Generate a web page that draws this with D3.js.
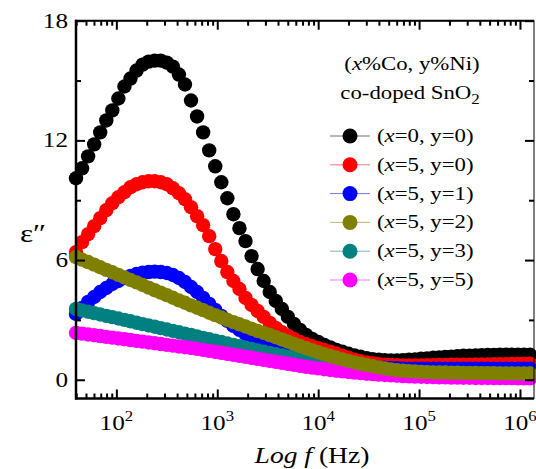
<!DOCTYPE html>
<html><head><meta charset="utf-8">
<script src="https://cdn.jsdelivr.net/npm/d3@7"></script>
<style>
body{margin:0;background:#fff}
svg{display:block}
text{font-family:"Liberation Serif","Times New Roman",serif;fill:#000}
</style>
</head><body>
<svg id="chart" width="536" height="469"></svg>
<script>
// log10 of frequency (Hz)
const logFreq = [1.60,1.66,1.72,1.78,1.84,1.90,1.96,2.02,2.08,2.14,2.20,2.26,2.32,2.38,2.44,2.50,2.56,2.62,2.68,2.74,2.80,2.86,2.92,2.98,3.04,3.10,3.16,3.22,3.28,3.34,3.40,3.46,3.52,3.58,3.64,3.70,3.76,3.82,3.88,3.94,4.00,4.06,4.12,4.18,4.24,4.30,4.36,4.42,4.48,4.54,4.60,4.66,4.72,4.78,4.84,4.90,4.96,5.02,5.08,5.14,5.20,5.26,5.32,5.38,5.44,5.50,5.56,5.62,5.68,5.74,5.80,5.86,5.92,5.98,6.04,6.10];

const eps_x0_y0 = [10.1,10.6,11.2,11.8,12.4,13.0,13.5,14.1,14.7,15.1,15.5,15.8,15.95,16.0,16.0,15.9,15.7,15.3,14.8,14.0,13.2,12.4,11.5,10.7,9.9,9.1,8.3,7.6,6.95,6.2,5.55,4.95,4.4,3.95,3.55,3.15,2.8,2.5,2.25,2.05,1.9,1.75,1.62,1.5,1.4,1.3,1.22,1.15,1.08,1.03,1.0,0.98,0.97,0.97,0.98,1.0,1.02,1.05,1.07,1.1,1.12,1.14,1.16,1.18,1.2,1.21,1.22,1.23,1.24,1.24,1.25,1.25,1.25,1.25,1.25,1.25];
const eps_x5_y0 = [6.4,6.9,7.3,7.7,8.1,8.5,8.85,9.15,9.4,9.65,9.8,9.9,9.95,9.95,9.9,9.8,9.6,9.35,9.05,8.65,8.2,7.75,7.2,6.55,5.95,5.4,4.95,4.55,4.1,3.75,3.45,3.15,2.85,2.6,2.38,2.2,2.05,1.9,1.78,1.68,1.58,1.5,1.4,1.3,1.2,1.1,1.0,0.93,0.87,0.82,0.78,0.76,0.74,0.73,0.72,0.72,0.72,0.72,0.73,0.73,0.74,0.74,0.75,0.75,0.76,0.76,0.77,0.77,0.77,0.78,0.78,0.78,0.79,0.79,0.8,0.8];
const eps_x5_y1 = [3.3,3.6,3.9,4.15,4.4,4.6,4.8,4.95,5.1,5.2,5.3,5.37,5.4,5.42,5.4,5.35,5.25,5.1,4.9,4.65,4.4,4.1,3.8,3.5,3.2,2.95,2.7,2.5,2.3,2.12,1.95,1.8,1.66,1.54,1.43,1.33,1.24,1.16,1.09,1.02,0.96,0.91,0.86,0.82,0.78,0.74,0.71,0.68,0.66,0.64,0.62,0.6,0.59,0.58,0.57,0.56,0.56,0.55,0.55,0.55,0.55,0.55,0.55,0.55,0.55,0.55,0.55,0.55,0.55,0.55,0.55,0.55,0.55,0.55,0.55,0.55];
const eps_x5_y2 = [6.15,6.02,5.9,5.77,5.64,5.51,5.39,5.26,5.13,5.0,4.88,4.75,4.62,4.49,4.37,4.24,4.11,3.98,3.86,3.73,3.61,3.49,3.36,3.24,3.12,3.0,2.89,2.78,2.67,2.56,2.45,2.35,2.24,2.13,2.02,1.91,1.8,1.69,1.58,1.48,1.38,1.28,1.19,1.1,1.02,0.94,0.87,0.8,0.74,0.68,0.62,0.57,0.52,0.48,0.45,0.43,0.41,0.39,0.38,0.37,0.36,0.36,0.35,0.35,0.34,0.34,0.34,0.33,0.33,0.33,0.32,0.32,0.32,0.31,0.31,0.31];
const eps_x5_y3 = [3.55,3.48,3.41,3.34,3.27,3.2,3.14,3.07,3.0,2.93,2.86,2.79,2.72,2.66,2.59,2.52,2.45,2.38,2.31,2.24,2.17,2.1,2.03,1.96,1.89,1.82,1.75,1.68,1.61,1.54,1.47,1.4,1.34,1.28,1.22,1.16,1.1,1.04,0.99,0.94,0.89,0.84,0.79,0.75,0.71,0.67,0.63,0.59,0.56,0.53,0.5,0.47,0.45,0.43,0.41,0.39,0.38,0.37,0.36,0.35,0.34,0.34,0.33,0.33,0.32,0.32,0.32,0.31,0.31,0.31,0.3,0.3,0.3,0.3,0.3,0.3];
const eps_x5_y5 = [2.35,2.31,2.27,2.23,2.19,2.15,2.11,2.07,2.03,1.99,1.95,1.91,1.87,1.83,1.79,1.75,1.71,1.67,1.63,1.59,1.55,1.5,1.45,1.4,1.35,1.3,1.25,1.2,1.15,1.1,1.05,1.0,0.95,0.9,0.85,0.8,0.75,0.7,0.65,0.61,0.57,0.53,0.49,0.45,0.42,0.39,0.36,0.33,0.3,0.28,0.26,0.24,0.22,0.2,0.18,0.17,0.16,0.15,0.14,0.13,0.12,0.12,0.11,0.11,0.1,0.1,0.09,0.09,0.09,0.08,0.08,0.08,0.08,0.07,0.07,0.07];

const seriesLabels = [["0","0"],["5","0"],["5","1"],["5","2"],["5","3"],["5","5"]];
const seriesColors = ["#000000","#ff0000","#0000ff","#808000","#008080","#ff00ff"];
const seriesValues = [eps_x0_y0, eps_x5_y0, eps_x5_y1, eps_x5_y2, eps_x5_y3, eps_x5_y5];
const drawOrder = [0,1,2,4,5,3];

const yTickValues = [0,6,12,18];
const yMinorTicks = [3,9,15];
const xTickExponents = [2,3,4,5,6];

const SX = 1.2; // horizontal text stretch seen in the reference
const M = {left:76, right:534, top:20.7, bottom:398.5};

const svg = d3.select("#chart");
const x = d3.scaleLog().domain([Math.pow(10,1.6), Math.pow(10,6.139)]).range([M.left, M.right]);
const y = d3.scaleLinear().domain([-0.94, 18]).range([M.bottom, M.top]);

function txt(g, px, py, anchor, size){
  return g.append("text")
    .attr("transform", `translate(${px},${py}) scale(${SX},1)`)
    .attr("text-anchor", anchor)
    .style("font-size", size + "px");
}

// series
const plot = svg.append("g");
drawOrder.forEach(si => {
  const g = plot.append("g");
  g.selectAll("circle").data(logFreq.map((lf,i)=>({f:Math.pow(10,lf), v:seriesValues[si][i]})))
    .join("circle")
    .attr("cx", d => x(d.f))
    .attr("cy", d => y(d.v))
    .attr("r", 7.2)
    .attr("fill", seriesColors[si]);
});

// frame
svg.append("rect").attr("x", M.left).attr("y", M.top)
  .attr("width", M.right - M.left).attr("height", M.bottom - M.top)
  .attr("fill","none").attr("stroke","#000").attr("stroke-width",1);
svg.append("line").attr("x1",M.left).attr("x2",M.left).attr("y1",M.top-1).attr("y2",M.bottom+1).attr("stroke","#000").attr("stroke-width",2.5);
svg.append("line").attr("x1",M.left-1).attr("x2",M.right).attr("y1",M.bottom).attr("y2",M.bottom).attr("stroke","#000").attr("stroke-width",2.5);
svg.append("line").attr("x1",M.left-1).attr("x2",M.right).attr("y1",M.top).attr("y2",M.top).attr("stroke","#000").attr("stroke-width",2);

// axes with inward ticks
const xMajor = xTickExponents.map(e => Math.pow(10,e));
const xAll = x.ticks().filter(v => v >= x.domain()[0] && v <= x.domain()[1]);
const xMinor = xAll.filter(v => !xMajor.some(m => Math.abs(m - v) < 1e-6));

function addAxis(axisFn, scale, values, size, transform, width){
  svg.append("g").attr("transform", transform)
    .call(axisFn(scale).tickValues(values).tickSize(size).tickFormat(""))
    .call(g => g.select(".domain").remove())
    .call(g => g.selectAll("line").attr("stroke","#000").attr("stroke-width",width));
}
addAxis(d3.axisTop, x, xMajor, 9, `translate(0,${M.bottom})`, 2);
addAxis(d3.axisTop, x, xMinor, 5, `translate(0,${M.bottom})`, 2);
addAxis(d3.axisBottom, x, xMajor, 9, `translate(0,${M.top})`, 2);
addAxis(d3.axisBottom, x, xMinor, 5, `translate(0,${M.top})`, 2);
addAxis(d3.axisRight, y, yTickValues, 9, `translate(${M.left},0)`, 2);
addAxis(d3.axisRight, y, yMinorTicks, 5, `translate(${M.left},0)`, 2);
addAxis(d3.axisLeft, y, yTickValues, 9, `translate(${M.right},0)`, 2);
addAxis(d3.axisLeft, y, yMinorTicks, 5, `translate(${M.right},0)`, 2);

// tick labels
yTickValues.forEach(v => {
  txt(svg, 68, y(v) + 7, "end", 21).text(String(v));
});
xTickExponents.forEach(e => {
  const t = txt(svg, x(Math.pow(10,e)), 430, "middle", 21);
  t.append("tspan").text("10");
  t.append("tspan").attr("dy", -9).style("font-size","14px").text(String(e));
});

// axis titles
const xt = txt(svg, 312, 463, "middle", 23);
xt.append("tspan").style("font-style","italic").text("Log f ");
xt.append("tspan").text("(Hz)");

txt(svg, 33, 242, "middle", 26).text("\u03B5\u2033");

// legend title
const lt1 = txt(svg, 412, 70, "middle", 19);
lt1.append("tspan").text("(");
lt1.append("tspan").style("font-style","italic").text("x");
lt1.append("tspan").text("%Co, y%Ni)");
const lt2 = txt(svg, 410, 99, "middle", 19);
lt2.append("tspan").text("co-doped SnO");
lt2.append("tspan").attr("dy", 5).style("font-size","14px").text("2");

// legend entries
const legY0 = 136, legDY = 28.8;
seriesLabels.forEach((lab, i) => {
  const cy = legY0 + i * legDY;
  svg.append("line").attr("x1", 330).attr("x2", 370).attr("y1", cy).attr("y2", cy)
    .attr("stroke", seriesColors[i]).attr("stroke-width", 1).attr("stroke-opacity", 0.55);
  svg.append("circle").attr("cx", 350).attr("cy", cy).attr("r", 7.5).attr("fill", seriesColors[i]);
  const t = txt(svg, 377, cy + 6, "start", 19);
  t.append("tspan").text("(");
  t.append("tspan").style("font-style","italic").text("x");
  t.append("tspan").text(`=${lab[0]}, y=${lab[1]})`);
});
</script>
</body></html>
